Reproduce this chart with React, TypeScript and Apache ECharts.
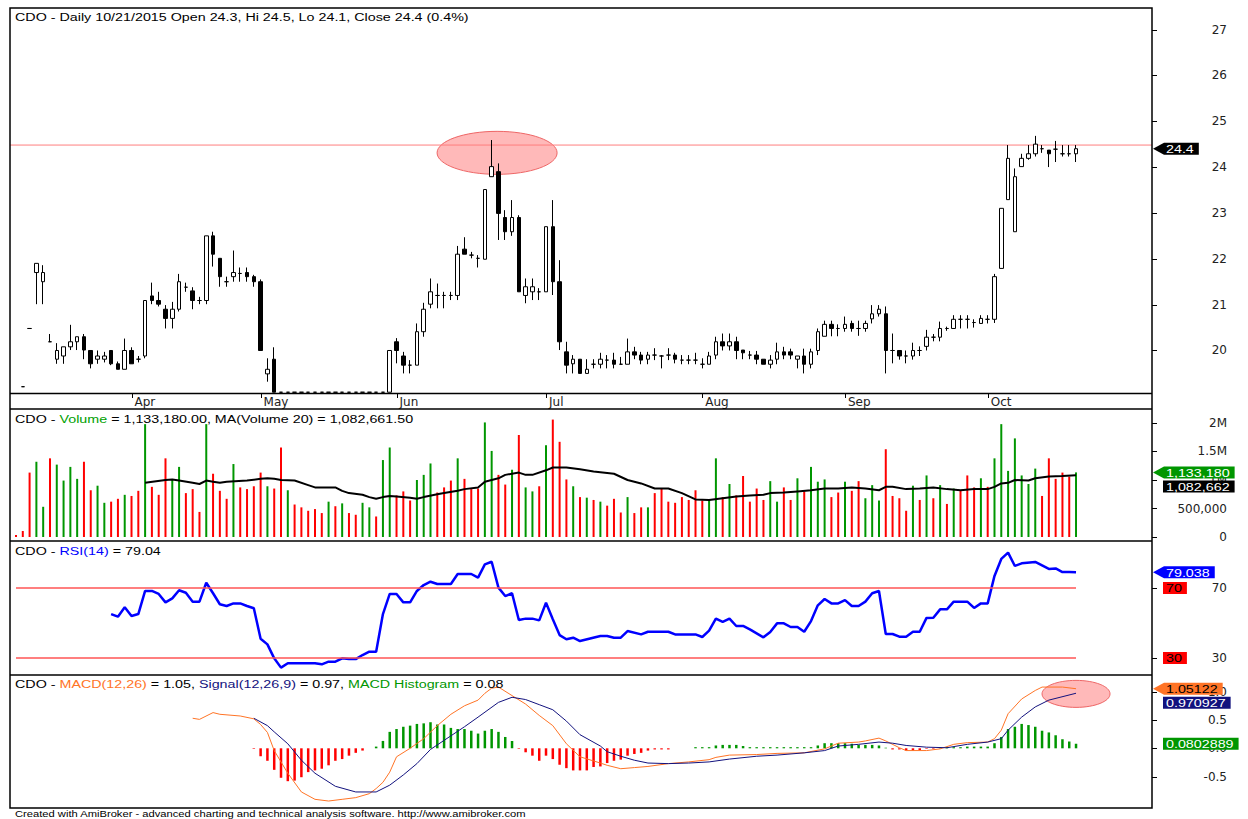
import React, { useEffect, useRef } from "react";
import * as echarts from "echarts";

const ticker = "CDO";
const lastDate = "10/21/2015";
const lastChangePct = "0.4%";

const monthNames = ["Apr", "May", "Jun", "Jul", "Aug", "Sep", "Oct"];
const monthStarts = [17, 36, 56, 78, 101, 122, 143];

// [open, close, low, high] per trading day (index = bar number); null = no bar
const candles: (number[] | null)[] = [
  null, [19.21, 19.21, 19.21, 19.21], [20.48, 20.48, 20.48, 20.48], [21.7, 21.9, 21.01, 21.9], [21.5, 21.7, 21.01, 21.86],
  [20.19, 20.19, 20.19, 20.36], [19.81, 20.0, 19.71, 20.16], [19.88, 20.08, 19.71, 20.08], [20.08, 20.19, 20.01, 20.56], [20.19, 20.3, 20.01, 20.3],
  [20.3, 20.01, 19.81, 20.36], [20.0, 19.71, 19.61, 20.0], [19.81, 19.88, 19.71, 20.0], [19.81, 19.88, 19.74, 19.97], [20.0, 19.71, 19.68, 20.0],
  [19.71, 19.59, 19.59, 19.76], [19.59, 20.0, 19.59, 20.26], [20.0, 19.71, 19.71, 20.07], [19.81, 19.81, 19.74, 19.88], [19.88, 21.09, 19.83, 21.09],
  [21.19, 21.09, 21.01, 21.48], [21.09, 21.01, 20.96, 21.28], [20.9, 20.7, 20.48, 20.99], [20.7, 20.9, 20.48, 21.06], [20.9, 21.5, 20.85, 21.67],
  [21.38, 21.38, 21.28, 21.48], [21.3, 21.09, 20.9, 21.38], [21.09, 21.09, 21.01, 21.17], [21.09, 22.5, 21.01, 22.5], [22.5, 22.1, 21.83, 22.59],
  [22.01, 21.61, 21.39, 22.01], [21.5, 21.5, 21.39, 21.61], [21.61, 21.7, 21.5, 22.18], [21.68, 21.68, 21.5, 21.81], [21.7, 21.61, 21.5, 21.81],
  [21.61, 21.5, 21.39, 21.65], [21.5, 20.0, 20.0, 21.55], [19.49, 19.59, 19.32, 19.83], [19.81, 19.09, 19.09, 20.07], [19.09, 19.09, 19.09, 19.09],
  [19.09, 19.09, 19.09, 19.09], [19.09, 19.09, 19.09, 19.09], [19.09, 19.09, 19.09, 19.09], [19.09, 19.09, 19.09, 19.09], [19.09, 19.09, 19.09, 19.09],
  [19.09, 19.09, 19.09, 19.09], [19.09, 19.09, 19.09, 19.09], [19.09, 19.09, 19.09, 19.09], [19.09, 19.09, 19.09, 19.09], [19.09, 19.09, 19.09, 19.09],
  [19.09, 19.09, 19.09, 19.09], [19.09, 19.09, 19.09, 19.09], [19.09, 19.09, 19.09, 19.09], [19.09, 19.09, 19.09, 19.09], [19.09, 19.09, 19.09, 19.09],
  [19.09, 20.0, 19.09, 20.0],
  [20.19, 20.0, 19.72, 20.27], [19.88, 19.68, 19.5, 19.97], [19.68, 19.68, 19.5, 19.79], [19.68, 20.41, 19.68, 20.59], [20.41, 20.9, 20.3, 21.04],
  [21.01, 21.28, 20.92, 21.57], [21.2, 21.2, 20.92, 21.46], [21.2, 21.2, 20.92, 21.28], [21.2, 21.2, 21.1, 21.28], [21.2, 22.1, 21.1, 22.28],
  [22.21, 22.1, 22.1, 22.47], [22.08, 22.08, 22.01, 22.15], [22.01, 22.01, 21.81, 22.08], [21.99, 23.51, 21.99, 23.51], [23.79, 24.01, 23.79, 24.59],
  [23.9, 22.99, 22.41, 24.08], [22.9, 22.59, 22.41, 23.06], [22.59, 22.9, 22.5, 23.28], [22.9, 21.28, 21.28, 22.95], [21.2, 21.39, 21.03, 21.57],
  [21.28, 21.39, 21.1, 21.57], [21.28, 21.28, 21.1, 21.36], [21.28, 22.7, 21.28, 22.7], [22.7, 21.5, 21.21, 23.28], [21.5, 20.19, 20.01, 21.97],
  [19.97, 19.68, 19.5, 20.19], [19.71, 19.81, 19.5, 19.9], [19.81, 19.5, 19.5, 19.81], [19.5, 19.59, 19.5, 19.81], [19.7, 19.7, 19.61, 19.81],
  [19.7, 19.81, 19.61, 19.95], [19.79, 19.79, 19.61, 19.9], [19.79, 19.7, 19.61, 19.95], [19.7, 19.7, 19.7, 19.86], [19.7, 19.97, 19.7, 20.26],
  [19.97, 19.9, 19.81, 20.08], [19.9, 19.79, 19.7, 19.97], [19.81, 19.9, 19.7, 19.97], [19.9, 19.9, 19.79, 20.05], [19.88, 19.88, 19.61, 19.9],
  [19.9, 19.9, 19.79, 20.05], [19.9, 19.81, 19.72, 19.95], [19.79, 19.79, 19.7, 19.9], [19.79, 19.79, 19.7, 19.9], [19.79, 19.79, 19.7, 19.95],
  [19.7, 19.7, 19.61, 19.83], [19.7, 19.88, 19.7, 19.97], [19.9, 20.19, 19.81, 20.3], [20.19, 20.1, 20.0, 20.37], [20.1, 20.19, 20.0, 20.37],
  [20.19, 20.0, 19.81, 20.3], [20.01, 19.95, 19.81, 20.01], [19.9, 19.9, 19.81, 19.99], [19.9, 19.81, 19.7, 19.99], [19.81, 19.7, 19.7, 19.81],
  [19.7, 19.79, 19.61, 19.9], [19.81, 19.97, 19.7, 20.17], [19.97, 19.9, 19.81, 20.08], [19.97, 19.9, 19.81, 20.04], [19.81, 19.88, 19.61, 19.88],
  [19.88, 19.7, 19.5, 20.04], [19.7, 19.97, 19.61, 20.04], [20.0, 20.41, 19.9, 20.48], [20.31, 20.57, 20.31, 20.65], [20.57, 20.48, 20.31, 20.65],
  [20.48, 20.48, 20.31, 20.57], [20.48, 20.57, 20.41, 20.74], [20.59, 20.48, 20.41, 20.65], [20.48, 20.48, 20.32, 20.65], [20.48, 20.59, 20.41, 20.65],
  [20.69, 20.8, 20.59, 20.99], [20.8, 20.9, 20.74, 20.99], [20.8, 20.0, 19.5, 20.96], [20.0, 20.0, 19.72, 20.37], [20.0, 19.88, 19.8, 20.0],
  [19.88, 19.88, 19.72, 20.0], [19.88, 20.0, 19.8, 20.17], [20.0, 20.0, 19.88, 20.09], [20.09, 20.29, 20.0, 20.45], [20.29, 20.29, 20.2, 20.36],
  [20.29, 20.48, 20.2, 20.63], [20.48, 20.48, 20.43, 20.52], [20.48, 20.68, 20.48, 20.77], [20.68, 20.68, 20.48, 20.77], [20.68, 20.68, 20.48, 20.77],
  [20.61, 20.61, 20.5, 20.68], [20.59, 20.7, 20.59, 20.77], [20.68, 20.68, 20.59, 20.77], [20.68, 21.61, 20.6, 21.67], [21.79, 23.1, 21.79, 23.1],
  [23.29, 24.19, 23.29, 24.48], [22.59, 23.79, 22.59, 23.97], [24.01, 24.19, 24.01, 24.29], [24.19, 24.29, 24.16, 24.48], [24.29, 24.5, 24.23, 24.68],
  [24.4, 24.4, 24.31, 24.48], [24.37, 24.29, 24.0, 24.37], [24.39, 24.39, 24.11, 24.57], [24.29, 24.29, 24.23, 24.48], [24.29, 24.29, 24.23, 24.48],
  [24.29, 24.4, 24.11, 24.48],
];

// daily volume, millions of shares
const volumes = [
  0.035, 0.105, 1.13, 1.32, 0.53, 1.38, 1.27, 0.99, 1.23, 1.02,
  1.32, 0.82, 0.9, 0.6, 0.62, 0.67, 0.74, 0.72, 0.81, 1.98,
  0.88, 0.74, 1.38, 1.01, 1.23, 0.77, 0.84, 0.44, 1.98, 1.11,
  0.81, 0.67, 1.28, 0.87, 0.84, 0.89, 1.13, 0.89, 0.85, 1.57,
  0.82, 0.57, 0.52, 0.46, 0.49, 0.42, 0.62, 0.54, 0.59, 0.42,
  0.39, 0.6, 0.52, 0.36, 1.35, 1.57, 0.73, 0.8, 0.64, 1.0,
  1.09, 1.29, 0.78, 0.87, 0.99, 1.38, 1.02, 0.84, 0.85, 2.01,
  1.51, 1.09, 0.92, 1.18, 1.79, 0.87, 0.8, 0.89, 1.61, 2.06,
  1.67, 1.01, 0.89, 0.7, 0.69, 0.65, 0.62, 0.55, 0.67, 0.43,
  0.7, 0.42, 0.52, 0.52, 0.77, 0.85, 0.62, 0.6, 0.7, 0.65,
  0.82, 0.64, 0.65, 1.38, 0.7, 0.93, 0.73, 1.07, 0.62, 0.85,
  0.65, 0.98, 0.62, 0.87, 0.65, 1.03, 0.8, 1.23, 0.97, 1.01,
  0.7, 0.78, 0.97, 0.81, 0.98, 0.68, 0.91, 0.64, 1.54, 0.72,
  0.68, 0.46, 0.9, 0.65, 1.08, 0.68, 0.91, 0.58, 0.85, 0.81,
  1.08, 0.87, 1.03, 0.88, 1.38, 1.98, 1.16, 1.73, 1.08, 0.93,
  1.2, 0.72, 1.38, 1.02, 1.13, 1.06, 1.13318,
];
// g = green (up) volume bar, r = red (down) volume bar
const volumeDirection =
  "rrrggrgggg" + "rrggrrgrrg" + "rrrggrrrgr" + "rrgrrrrgrr" + "grrrrrgrgr" +
  "rggrggrrrg" + "ggrrrgrrrg" + "grrgrggrgr" + "rrgrgrgrrr" + "grrgrrrrrr" +
  "rrggrgrrrr" + "rggrrgrggg" + "rrgrrgggrr" + "rrgrgrgrgr" + "rrgrgggggg" + "grrrrrg";

const volumeMA20: [number, number][] = [
  [19, 0.95], [22, 1.0], [23, 1.01], [24, 0.99], [26, 0.95], [27, 0.93], [28, 0.99], [29, 0.97], [30, 0.95], [31, 0.97],
  [34, 0.99], [36, 1.02], [37, 1.03], [38, 1.02], [39, 1.0], [41, 0.99], [43, 0.91], [44, 0.87], [47, 0.87], [48, 0.81],
  [49, 0.77], [51, 0.74], [52, 0.7], [53, 0.67], [54, 0.7], [55, 0.72], [56, 0.71], [58, 0.69], [59, 0.67], [60, 0.7],
  [62, 0.75], [63, 0.77], [65, 0.81], [66, 0.84], [68, 0.87], [69, 0.97], [71, 1.03], [72, 1.09], [74, 1.13], [75, 1.09],
  [76, 1.09], [78, 1.17], [79, 1.22], [81, 1.22], [83, 1.19], [85, 1.15], [88, 1.11], [90, 1.0], [92, 0.94], [94, 0.85],
  [96, 0.85], [98, 0.77], [100, 0.66], [102, 0.65], [104, 0.68], [106, 0.71], [108, 0.73], [110, 0.74], [111, 0.77], [113, 0.78],
  [115, 0.8], [117, 0.82], [119, 0.85], [121, 0.85], [123, 0.87], [125, 0.85], [127, 0.82], [128, 0.88], [129, 0.88], [131, 0.84],
  [133, 0.85], [135, 0.87], [137, 0.84], [139, 0.82], [141, 0.84], [143, 0.84], [144, 0.88], [145, 0.94], [146, 0.95], [147, 1.0],
  [149, 0.99], [150, 1.03], [152, 1.06], [154, 1.07], [156, 1.0826615],
];

const rsi14: [number, number][] = [
  [14, 55.1], [15, 53.6], [16, 59.0], [17, 54.0], [18, 55.1], [19, 68.3], [20, 68.3], [21, 66.6], [22, 61.8], [23, 64.1],
  [24, 68.7], [25, 67.3], [26, 62.2], [27, 62.2], [28, 73.0], [29, 67.0], [30, 60.7], [31, 59.7], [32, 61.2], [33, 61.2],
  [34, 59.7], [35, 58.4], [36, 41.0], [37, 37.8], [38, 29.8], [39, 24.5], [40, 27.0], [44, 27.0], [45, 26.4], [46, 27.9],
  [47, 27.9], [48, 29.8], [49, 29.4], [50, 29.4], [51, 31.7], [52, 33.6], [53, 33.6], [54, 55.1], [55, 66.6], [56, 66.6],
  [57, 61.8], [58, 61.8], [59, 68.3], [60, 71.7], [61, 73.6], [62, 72.3], [64, 72.3], [65, 78.0], [67, 78.0], [68, 75.9],
  [69, 83.5], [70, 85.0], [71, 70.2], [72, 65.4], [73, 67.0], [74, 51.7], [75, 52.5], [76, 52.5], [77, 51.5], [78, 61.6],
  [79, 52.1], [80, 43.1], [81, 40.7], [82, 41.6], [83, 39.7], [86, 42.6], [87, 42.6], [88, 41.6], [89, 41.6], [90, 45.4],
  [92, 43.5], [93, 45.0], [96, 45.0], [97, 43.5], [100, 43.5], [101, 42.0], [102, 45.6], [103, 52.5], [104, 50.6], [105, 52.5],
  [106, 48.3], [107, 48.3], [108, 46.4], [110, 41.8], [111, 44.9], [112, 49.8], [113, 49.8], [114, 47.7], [115, 47.7], [116, 45.0],
  [117, 51.1], [118, 60.1], [119, 63.7], [120, 61.2], [121, 61.2], [122, 63.1], [123, 59.7], [124, 59.7], [125, 62.2], [126, 67.0],
  [127, 68.3], [128, 43.7], [129, 43.7], [130, 42.2], [131, 42.2], [132, 45.0], [133, 45.0], [134, 52.9], [135, 53.0], [136, 57.8],
  [137, 57.8], [138, 62.2], [140, 62.2], [141, 58.6], [142, 61.2], [143, 61.2], [144, 76.9], [145, 86.6], [146, 90.2], [147, 82.6],
  [148, 84.1], [150, 84.9], [152, 80.9], [153, 81.2], [154, 79.1], [155, 79.1], [156, 79.038],
];
const rsiBands = [70, 30];

const macdLine: [number, number][] = [
  [26, 0.53], [27, 0.51], [29, 0.63], [30, 0.6], [33, 0.57], [35, 0.52], [36, 0.42], [37, 0.28], [38, -0.04], [40, -0.44],
  [42, -0.77], [44, -0.9], [46, -0.93], [48, -0.9], [50, -0.87], [52, -0.8], [53, -0.71], [54, -0.6], [55, -0.42], [56, -0.15],
  [58, 0.0], [60, 0.17], [62, 0.4], [64, 0.6], [66, 0.75], [68, 0.85], [69, 0.97], [70, 1.06], [71, 1.08], [73, 0.93],
  [75, 0.78], [77, 0.58], [79, 0.4], [81, 0.08], [83, -0.15], [86, -0.26], [87, -0.3], [89, -0.36], [91, -0.34], [93, -0.32],
  [96, -0.27], [99, -0.24], [102, -0.2], [103, -0.16], [105, -0.12], [109, -0.11], [112, -0.09], [116, -0.08], [119, -0.01], [121, 0.09],
  [124, 0.11], [125, 0.13], [127, 0.18], [128, 0.13], [130, 0.01], [131, -0.04], [134, -0.04], [136, -0.01], [138, 0.07], [140, 0.1],
  [143, 0.11], [144, 0.17], [145, 0.32], [146, 0.61], [148, 0.87], [150, 1.02], [151, 1.08], [154, 1.08], [156, 1.05122],
];
const signalLine: [number, number][] = [
  [35, 0.53], [37, 0.4], [38, 0.29], [40, 0.08], [42, -0.21], [44, -0.44], [47, -0.67], [50, -0.77], [53, -0.77], [55, -0.65],
  [57, -0.47], [59, -0.27], [61, -0.02], [64, 0.22], [66, 0.38], [68, 0.55], [71, 0.81], [73, 0.9], [75, 0.86], [77, 0.77],
  [79, 0.68], [81, 0.48], [83, 0.24], [86, 0.04], [87, -0.06], [89, -0.14], [91, -0.21], [93, -0.26], [96, -0.27], [99, -0.26],
  [102, -0.24], [105, -0.19], [109, -0.14], [112, -0.12], [116, -0.08], [119, -0.04], [121, 0.04], [124, 0.07], [127, 0.11], [129, 0.09],
  [131, 0.05], [134, 0.02], [137, 0.01], [140, 0.07], [143, 0.11], [145, 0.17], [146, 0.32], [148, 0.55], [150, 0.73], [152, 0.85],
  [156, 0.970927],
];
const histStart = 35;
const macdHist = [
  -0.01, -0.14, -0.22, -0.38, -0.52, -0.58, -0.57, -0.51, -0.42, -0.39,
  -0.36, -0.3, -0.22, -0.19, -0.13, -0.08, -0.04, 0, 0.03, 0.13,
  0.29, 0.34, 0.38, 0.4, 0.43, 0.44, 0.46, 0.42, 0.42, 0.36,
  0.34, 0.34, 0.31, 0.26, 0.31, 0.34, 0.29, 0.2, 0.13, -0.01,
  -0.07, -0.13, -0.22, -0.13, -0.19, -0.29, -0.35, -0.39, -0.39, -0.39,
  -0.33, -0.32, -0.26, -0.22, -0.2, -0.13, -0.1, -0.08, -0.04, -0.02,
  -0.02, -0.02, 0, 0, 0, 0.02, 0.02, 0.02, 0.05, 0.06,
  0.06, 0.06, 0.04, 0.02, 0.02, 0.02, 0.02, 0.02, 0.02, 0.02,
  0.02, 0.02, 0.02, 0.05, 0.09, 0.09, 0.09, 0.09, 0.08, 0.06,
  0.06, 0.06, 0.05, 0.01, -0.02, -0.02, -0.04, -0.04, -0.03, -0.01,
  -0.01, 0.02, 0.02, 0.02, 0.02, 0.03, 0.03, 0.03, 0.03, 0.09,
  0.2, 0.34, 0.38, 0.43, 0.41, 0.38, 0.31, 0.28, 0.23, 0.16,
  0.12, 0.0802889,
];

const resistanceLevel = 24.48;
const priceTicks = [20, 21, 22, 23, 24, 25, 26, 27];
const volumeTicks = [0, 0.5, 1, 1.5, 2];
const rsiTicks = [30, 70];
const macdTicks = [-0.5, 0, 0.5, 1];

const GREEN = "#009600";
const RED = "#FF0000";
const BLUE = "#0000FF";
const ORANGE = "#FF7426";
const NAVY = "#12127E";
const FF = "'Liberation Sans', Arial, Helvetica, sans-serif";
const SX = 1.3;

export default function App() {
  const ref = useRef<HTMLDivElement>(null);

  useEffect(() => {
    const chart = echarts.init(ref.current!, null, { renderer: "svg" });
    const xMin = -0.883;
    const xMax = 167.18;
    const grids = [
      { left: 10, width: 1142, top: 8, height: 385 },
      { left: 10, width: 1142, top: 409, height: 131.5 },
      { left: 10, width: 1142, top: 541, height: 134 },
      { left: 10, width: 1142, top: 675, height: 133 },
    ].map((g) => ({ ...g, show: false, containLabel: false, outerBoundsMode: "none" }));

    const xAxis = grids.map((_, k) =>
      k === 0
        ? {
            type: "value", gridIndex: 0, min: xMin, max: xMax,
            axisLine: { show: false, onZero: false }, splitLine: { show: false },
            axisTick: { show: false },
            axisLabel: {
              show: true, customValues: monthStarts,
              formatter: (v: number) => monthNames[monthStarts.indexOf(Number(v))] || "",
              align: "left", margin: 3, padding: [0, 0, 0, 3],
              fontFamily: "DejaVu Sans", fontSize: 12, color: "#222",
            },
          }
        : { type: "value", gridIndex: k, min: xMin, max: xMax, show: false, axisLine: { onZero: false } }
    );

    const yAx = (k: number, min: number, max: number, ticks: number[], fmt: (v: number) => string) => ({
      type: "value", gridIndex: k, position: "right", min, max,
      splitLine: { show: false }, axisLine: { show: false, onZero: false },
      axisTick: { show: false },
      axisLabel: {
        show: true, customValues: ticks, formatter: (v: number) => fmt(Number(v)),
        align: "right", margin: 75, fontFamily: "DejaVu Sans", fontSize: 12, color: "#222",
      },
    });
    const fmtVol = (v: number) => (v === 0 ? "0" : v < 1 ? (v * 1e6).toLocaleString("en-US") : v + "M");

    const yAxis = [
      yAx(0, 19.073, 27.469, priceTicks, (v) => String(v)),
      yAx(1, -0.0614, 2.2456, volumeTicks, fmtVol),
      yAx(2, 20.286, 96.857, rsiTicks, (v) => String(v)),
      yAx(3, -1.053, 1.293, macdTicks, (v) => v.toFixed(1)),
    ];

    const lastIdx = candles.length - 1;
    const series: any[] = [
      {
        type: "line", xAxisIndex: 0, yAxisIndex: 0, symbol: "none", silent: true, z: 2,
        data: [[xMin, resistanceLevel], [xMax, resistanceLevel]],
        lineStyle: { color: "#FF7F7F", width: 1 },
      },
      {
        type: "candlestick", xAxisIndex: 0, yAxisIndex: 0, z: 3,
        data: candles.map((c, i) => (c ? [i, c[0], c[1], c[2], c[3]] : null)).filter(Boolean),
        encode: { x: 0, y: [1, 2, 3, 4] },
        barWidth: 4,
        itemStyle: { color: "#FFFFFF", color0: "#000000", borderColor: "#000", borderColor0: "#000", borderColorDoji: "#000", borderWidth: 1 },
      },
      {
        type: "bar", xAxisIndex: 1, yAxisIndex: 1, barWidth: 2,
        data: volumes.map((v, i) => ({ value: [i, v], itemStyle: { color: volumeDirection[i] === "g" ? GREEN : RED } })),
      },
      {
        type: "line", xAxisIndex: 1, yAxisIndex: 1, data: volumeMA20, symbol: "none",
        lineStyle: { color: "#000", width: 2 },
      },
      {
        type: "line", xAxisIndex: 2, yAxisIndex: 2, data: rsi14, symbol: "none",
        lineStyle: { color: BLUE, width: 2.5 },
        markLine: {
          silent: true, symbol: ["none", "none"], label: { show: false },
          lineStyle: { color: "#FF5555", width: 1.5, type: "solid" },
          data: rsiBands.map((b) => [{ coord: [0, b] }, { coord: [lastIdx, b] }]),
        },
      },
      {
        type: "bar", xAxisIndex: 3, yAxisIndex: 3, barWidth: 2.5,
        data: macdHist.map((v, k) => ({ value: [histStart + k, v], itemStyle: { color: v >= 0 ? GREEN : RED } })),
      },
      { type: "line", xAxisIndex: 3, yAxisIndex: 3, data: macdLine, symbol: "none", lineStyle: { color: ORANGE, width: 1 } },
      { type: "line", xAxisIndex: 3, yAxisIndex: 3, data: signalLine, symbol: "none", lineStyle: { color: NAVY, width: 1 } },
    ];

    chart.setOption({ animation: false, backgroundColor: "#fff", grid: grids, xAxis, yAxis, series });

    // ---------- overlays: frame, ticks, titles, value tags, annotations ----------
    const ctx = document.createElement("canvas").getContext("2d")!;
    const textW = (t: string, size: number) => {
      ctx.font = `${size}px ${FF}`;
      return ctx.measureText(t).width * SX;
    };
    const g: any[] = [];

    const lastC = candles[lastIdx]!;
    const lastVol = volumes[lastIdx];
    const lastMA = volumeMA20[volumeMA20.length - 1][1];
    const lastRsi = rsi14[rsi14.length - 1][1];
    const lastMacd = macdLine[macdLine.length - 1][1];
    const lastSig = signalLine[signalLine.length - 1][1];
    const lastHist = macdHist[macdHist.length - 1];

    // annotation ellipses (under series)
    const e1 = chart.convertToPixel({ gridIndex: 0 }, [70.8, 24.31]) as number[];
    const e2 = chart.convertToPixel({ gridIndex: 3 }, [156, 0.96]) as number[];
    const ellStyle = { fill: "#FFB9B9", stroke: "#EE6666", lineWidth: 1 };
    g.push({ type: "ellipse", z: 1, shape: { cx: e1[0], cy: e1[1], rx: 60, ry: 21.5 }, style: ellStyle });
    g.push({ type: "ellipse", z: 1, shape: { cx: e2[0], cy: e2[1], rx: 34, ry: 13.5 }, style: ellStyle });

    // frame
    g.push({ type: "rect", z: 10, shape: { x: 10, y: 8, width: 1142, height: 800 }, style: { fill: "none", stroke: "#000", lineWidth: 1.5 } });
    [393.5, 409, 541, 675].forEach((y) =>
      g.push({ type: "line", z: 10, shape: { x1: 10, y1: y, x2: 1152, y2: y }, style: { stroke: "#000", lineWidth: 1.3 } })
    );

    // axis ticks (right-hand value axes, month ticks under the price pane)
    const tickSets = [priceTicks, volumeTicks, rsiTicks, macdTicks];
    tickSets.forEach((ticks, k) =>
      ticks.forEach((v) => {
        const y = Math.round(chart.convertToPixel({ yAxisIndex: k }, v) as number) + 0.5;
        g.push({ type: "line", z: 10, shape: { x1: 1152, y1: y, x2: 1157, y2: y }, style: { stroke: "#000", lineWidth: 1 } });
      })
    );
    monthStarts.forEach((m) => {
      const x = Math.round(chart.convertToPixel({ xAxisIndex: 0 }, m) as number) + 0.5;
      g.push({ type: "line", z: 10, shape: { x1: x, y1: 393.5, x2: x, y2: 398 }, style: { stroke: "#000", lineWidth: 1 } });
    });

    // titles
    const title = (y: number, parts: [string, string][]) => {
      const rich: any = {};
      let text = "";
      parts.forEach(([s, c], k) => {
        rich["p" + k] = { fill: c, font: `11px ${FF}` };
        text += `{p${k}|${s}}`;
      });
      g.push({ type: "text", z: 20, x: 15, y, scaleX: SX, style: { text, rich, font: `11px ${FF}`, verticalAlign: "middle", align: "left" } });
    };
    const K = "#000";
    title(17.5, [[`${ticker} - Daily ${lastDate} Open ${lastC[0].toFixed(1)}, Hi ${lastC[3].toFixed(1)}, Lo ${lastC[2].toFixed(1)}, Close ${lastC[1].toFixed(1)} (${lastChangePct})`, K]]);
    const fmt2 = (n: number) => n.toLocaleString("en-US", { minimumFractionDigits: 2, maximumFractionDigits: 2 });
    title(419.5, [[`${ticker} - `, K], ["Volume", "#00A000"], [` = ${fmt2(lastVol * 1e6)}, MA(Volume 20) = ${fmt2(lastMA * 1e6)}`, K]]);
    title(551.5, [[`${ticker} - `, K], ["RSI(14)", BLUE], [` = ${lastRsi.toFixed(2)}`, K]]);
    title(684, [
      [`${ticker} - `, K], ["MACD(12,26)", ORANGE], [` = ${lastMacd.toFixed(2)}, `, K],
      ["Signal(12,26,9)", NAVY], [` = ${lastSig.toFixed(2)}, `, K],
      ["MACD Histogram", GREEN], [` = ${lastHist.toFixed(2)}`, K],
    ]);

    // footer
    g.push({
      type: "text", z: 20, x: 15, y: 814, scaleX: SX,
      style: { text: "Created with AmiBroker - advanced charting and technical analysis software. http://www.amibroker.com", font: `8.6px ${FF}`, fill: "#000", verticalAlign: "middle" },
    });

    // value tags on the right
    const sig6 = (v: number) => String(Number(v.toPrecision(6)));
    const tagDefs = [
      { axis: 0, value: lastC[1], text: lastC[1].toFixed(1), bg: "#000000", fg: "#FFFFFF", arrow: true },
      { axis: 1, value: lastVol, text: Math.round(lastVol * 1e6).toLocaleString("en-US"), bg: GREEN, fg: "#FFFFFF", arrow: true },
      { axis: 1, value: lastMA, text: Math.round(lastMA * 1e6).toLocaleString("en-US"), bg: "#000000", fg: "#FFFFFF", arrow: false },
      { axis: 2, value: lastRsi, text: sig6(lastRsi), bg: BLUE, fg: "#FFFFFF", arrow: true },
      { axis: 2, value: rsiBands[0], text: String(rsiBands[0]), bg: RED, fg: "#000000", arrow: false },
      { axis: 2, value: rsiBands[1], text: String(rsiBands[1]), bg: RED, fg: "#000000", arrow: false },
      { axis: 3, value: lastMacd, text: sig6(lastMacd), bg: ORANGE, fg: "#000000", arrow: true },
      { axis: 3, value: lastSig, text: sig6(lastSig), bg: NAVY, fg: "#FFFFFF", arrow: false },
      { axis: 3, value: lastHist, text: sig6(lastHist), bg: GREEN, fg: "#FFFFFF", arrow: false },
    ];
    const placed: { axis: number; top: number; bottom: number }[] = [];
    const H = 12;
    tagDefs.forEach((t) => {
      let yc = chart.convertToPixel({ yAxisIndex: t.axis }, t.value) as number;
      let top = yc - H / 2;
      for (const p of placed) {
        if (p.axis === t.axis && top < p.bottom + 1 && top + H > p.top - 1) top = p.bottom + 2;
      }
      yc = top + H / 2;
      placed.push({ axis: t.axis, top, bottom: top + H });
      const x0 = 1163;
      const x1 = x0 + textW(t.text, 11) + 8;
      if (t.arrow) {
        g.push({
          type: "polygon", z: 30,
          shape: { points: [[1153, yc], [x0 + 1, top], [x1, top], [x1, top + H], [x0 + 1, top + H]] },
          style: { fill: t.bg },
        });
      } else {
        g.push({ type: "rect", z: 30, shape: { x: x0, y: top, width: x1 - x0, height: H }, style: { fill: t.bg } });
      }
      g.push({
        type: "text", z: 31, x: x0 + 3, y: yc + 0.5, scaleX: SX,
        style: { text: t.text, font: `11px ${FF}`, fill: t.fg, verticalAlign: "middle", align: "left" },
      });
    });

    chart.setOption({ graphic: g });
    return () => chart.dispose();
  }, []);

  return <div ref={ref} style={{ position: "fixed", left: 0, top: 0, width: 1248, height: 819, background: "#fff" }} />;
}
